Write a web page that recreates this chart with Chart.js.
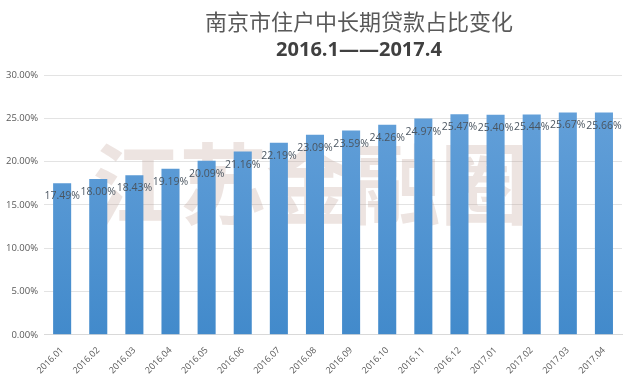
<!DOCTYPE html>
<html>
<head>
<meta charset="utf-8">
<script src="https://cdn.jsdelivr.net/npm/chart.js@4"></script>
<style>
html,body{margin:0;padding:0;background:#fff;}
#wrap{width:633px;height:380px;position:relative;}
</style>
</head>
<body>
<div id="wrap"><canvas id="c" width="633" height="380"></canvas></div>
<script>
const categories = ["2016.01","2016.02","2016.03","2016.04","2016.05","2016.06","2016.07","2016.08","2016.09","2016.10","2016.11","2016.12","2017.01","2017.02","2017.03","2017.04"];
const shareValues = [17.49,18.00,18.43,19.19,20.09,21.16,22.19,23.09,23.59,24.26,24.97,25.47,25.40,25.44,25.67,25.66];
const titleText = "南京市住户中长期贷款占比变化";
const subtitleText = "2016.1——2017.4";
const watermarkText = "江苏金融圈";

const titles = {
  id: 'titles',
  afterDraw(chart) {
    const ctx = chart.ctx;
    ctx.save();
    ctx.textAlign = 'center';
    ctx.textBaseline = 'middle';
    ctx.fillStyle = '#595959';
    ctx.font = '400 22px "Noto Sans CJK SC"';
    ctx.fillText(titleText, 359, 22);
    ctx.fillStyle = '#404040';
    ctx.font = 'bold 20px "Open Sans", "DejaVu Sans", sans-serif';
    ctx.fillText(subtitleText, 359, 50);
    ctx.restore();
  }
};

const watermark = {
  id: 'watermark',
  beforeDatasetsDraw(chart) {
    const ctx = chart.ctx;
    ctx.save();
    ctx.font = '700 88px "Noto Sans CJK SC"';
    ctx.fillStyle = 'rgba(185,150,140,0.26)';
    ctx.textBaseline = 'middle';
    const chars = watermarkText.split('');
    const x0 = 92, step = 87;
    chars.forEach((ch, i) => ctx.fillText(ch, x0 + i * step, 184));
    ctx.restore();
  }
};

const valueLabels = {
  id: 'valueLabels',
  afterDatasetsDraw(chart) {
    const ctx = chart.ctx;
    const meta = chart.getDatasetMeta(0);
    ctx.save();
    ctx.font = '10.5px "Open Sans", "DejaVu Sans", sans-serif';
    ctx.fillStyle = '#4a5560';
    ctx.textAlign = 'center';
    ctx.textBaseline = 'middle';
    meta.data.forEach((bar, i) => {
      ctx.fillText(shareValues[i].toFixed(2) + '%', bar.x, bar.y + 13);
    });
    ctx.restore();
  }
};

new Chart(document.getElementById('c'), {
  type: 'bar',
  data: {
    labels: categories,
    datasets: [{
      data: shareValues,
      backgroundColor: (ctx) => {
        const area = ctx.chart.chartArea;
        if (!area) return '#5B9BD5';
        const g = ctx.chart.ctx.createLinearGradient(0, area.top, 0, area.bottom);
        g.addColorStop(0, '#68A3DB');
        g.addColorStop(1, '#428ACB');
        return g;
      },
      categoryPercentage: 0.5,
      barPercentage: 1.0
    }]
  },
  options: {
    responsive: false,
    animation: false,
    devicePixelRatio: 1,
    layout: { padding: { left: 0, right: 11, top: 75, bottom: 2 } },
    plugins: {
      legend: { display: false },
      tooltip: { enabled: false },
      title: { display: false }
    },
    scales: {
      x: {
        grid: { display: false },
        border: { display: true, color: '#d9d9d9' },
        ticks: {
          color: '#595959',
          font: { size: 9, family: '"Open Sans", "DejaVu Sans", sans-serif' },
          minRotation: 45,
          maxRotation: 45,
          padding: 2,
          autoSkip: false
        }
      },
      y: {
        min: 0,
        max: 30,
        border: { display: false },
        grid: { color: '#e3e3e3', drawTicks: false },
        ticks: {
          stepSize: 5,
          color: '#595959',
          font: { size: 9.5, family: '"Open Sans", "DejaVu Sans", sans-serif' },
          padding: 6,
          callback: (v) => v.toFixed(2) + '%'
        }
      }
    }
  },
  plugins: [watermark, valueLabels, titles]
});
</script>
</body>
</html>
